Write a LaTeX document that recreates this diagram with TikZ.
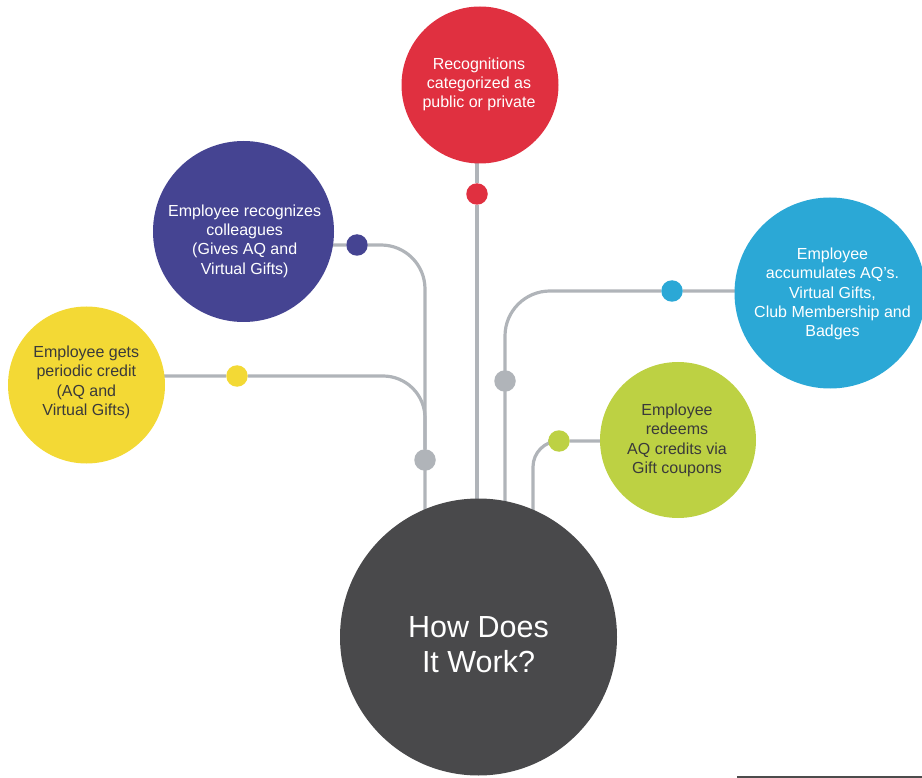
\documentclass[tikz,border=0pt]{standalone}
\usepackage{fontspec}
\setmainfont{Liberation Sans}
\usetikzlibrary{backgrounds}
\definecolor{cred}{RGB}{224,48,64}
\definecolor{cpur}{RGB}{69,68,146}
\definecolor{cblu}{RGB}{43,168,214}
\definecolor{cyel}{RGB}{243,217,53}
\definecolor{cgrn}{RGB}{189,209,67}
\definecolor{chub}{RGB}{73,73,75}
\definecolor{linegray}{RGB}{176,180,185}
\definecolor{darktext}{RGB}{58,58,58}
\begin{document}
\begin{tikzpicture}[x=1pt,y=-1pt,
  conn/.style={draw=linegray,line width=3.2pt},
  bigcirc/.style={circle,inner sep=0pt,draw=none},
  dotnode/.style={circle,inner sep=0pt,minimum size=21.5pt,draw=none},
  lbl/.style={align=center,font=\fontsize{16}{19.3}\selectfont,inner sep=0pt},
  hublbl/.style={align=center,font=\fontsize{30.5}{35}\selectfont,inner sep=0pt,text=white}]
\useasboundingbox (0,0) rectangle (922,778);

% big circles
\node[bigcirc,fill=cred,minimum size=157pt] (red) at (480,85) {};
\node[bigcirc,fill=cpur,minimum size=181pt] (pur) at (243.5,231.5) {};
\node[bigcirc,fill=cyel,minimum size=157pt] (yel) at (86.5,385) {};
\node[bigcirc,fill=cblu,minimum size=191pt] (blu) at (830,293) {};
\node[bigcirc,fill=cgrn,minimum size=156pt] (grn) at (678,440) {};
\node[bigcirc,fill=chub,minimum size=277pt] (hub) at (478.5,637) {};

% labels
\node[lbl,text=white] (tred) at (479,84.5) {Recognitions\\categorized as\\public or private};
\node[lbl,text=white] (tpur) at (244.7,241) {Employee recognizes\\colleagues\\(Gives AQ and\\Virtual Gifts)};
\node[lbl,text=darktext] (tyel) at (86.3,382.5) {Employee gets\\periodic credit\\(AQ and\\Virtual Gifts)};
\node[lbl,text=white] (tblu) at (832.5,294) {Employee\\accumulates AQ's.\\Virtual Gifts,\\Club Membership and\\Badges};
\node[lbl,text=darktext] (tgrn) at (677,440.5) {Employee\\redeems\\AQ credits via\\Gift coupons};
\node[hublbl] (thub) at (478.5,645) {How Does\\It Work?};

% dots
\node[dotnode,fill=cred] (rdot) at (477,194) {};
\node[dotnode,fill=cpur] (pdot) at (357,245) {};
\node[dotnode,fill=cyel] (ydot) at (237,376) {};
\node[dotnode,fill=cblu] (bdot) at (672,291) {};
\node[dotnode,fill=cgrn] (gdot) at (559,441) {};
\node[dotnode,fill=linegray] (jdot1) at (425,460) {};
\node[dotnode,fill=linegray] (jdot2) at (505,381) {};

% corner coordinates
\coordinate (pc) at (425,245);
\coordinate (yc) at (425,376);
\coordinate (bc) at (505,291);
\coordinate (gc) at (533,441);

\begin{scope}[on background layer]
  \draw[conn] (rdot |- red.center) -- (rdot) -- (rdot |- hub.center);
  \draw[conn,rounded corners=44pt] (pur.center |- pdot) -- (pdot) -- (pc) -- (pc |- hub.center);
  \draw[conn,rounded corners=42pt] (yel.center |- ydot) -- (ydot) -- (yc) -- (jdot1);
  \draw[conn,rounded corners=45pt] (blu.center |- bdot) -- (bdot) -- (bc) -- (bc |- hub.center);
  \draw[conn,rounded corners=26pt] (grn.center |- gdot) -- (gdot) -- (gc) -- (gc |- hub.center);
\end{scope}

\draw[line width=1.2pt,draw=black!70] (737,777) -- (922,777);
\end{tikzpicture}
\end{document}
